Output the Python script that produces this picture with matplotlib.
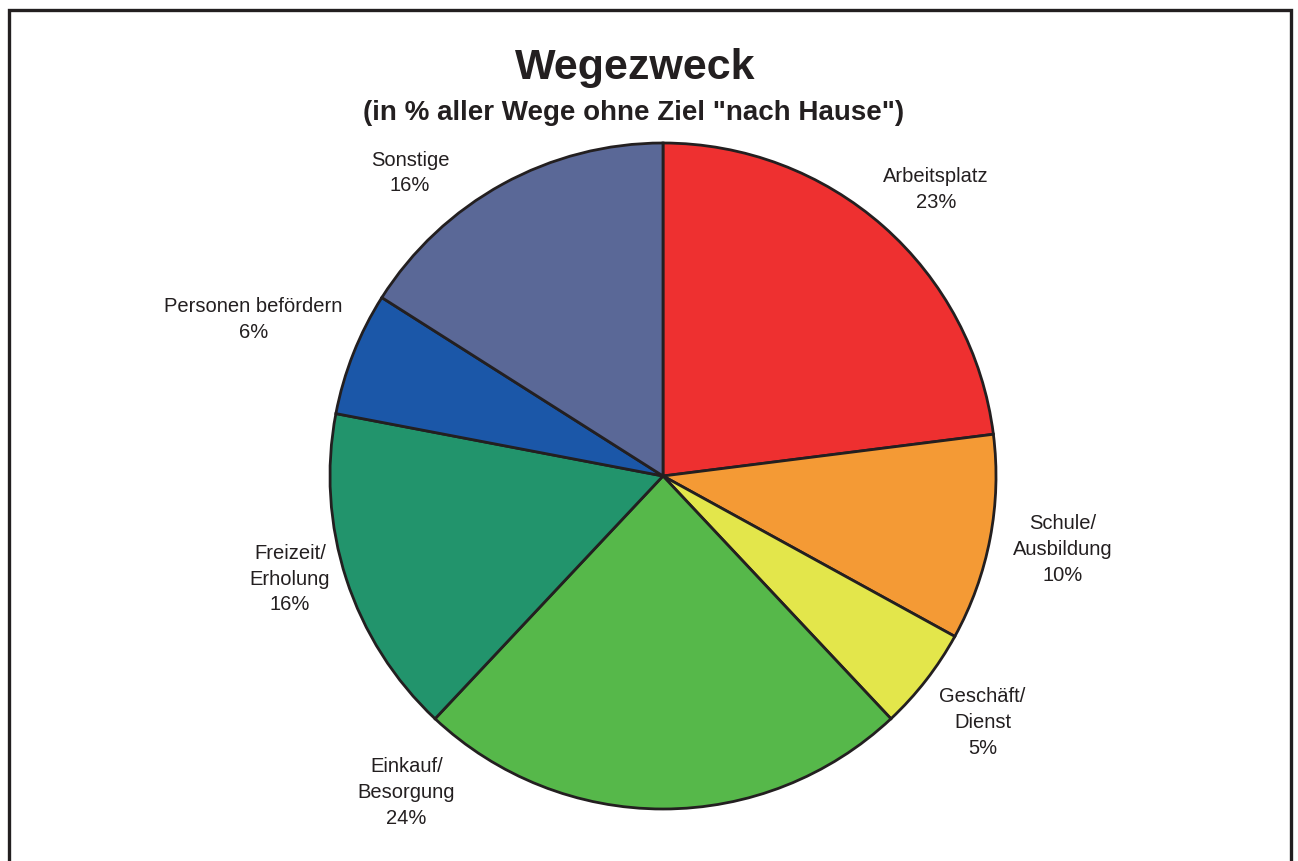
import matplotlib
matplotlib.use("Agg")
import matplotlib.pyplot as plt
from matplotlib.patches import Rectangle

categories = ["Arbeitsplatz", "Schule/\nAusbildung", "Geschäft/\nDienst",
              "Einkauf/\nBesorgung", "Freizeit/\nErholung",
              "Personen befördern", "Sonstige"]
shares = [23, 10, 5, 24, 16, 6, 16]
colors = ["#EE3030", "#F49A35", "#E3E64B", "#56B84A", "#22946C",
          "#1B57A8", "#5A6897"]

title = "Wegezweck"
subtitle = '(in % aller Wege ohne Ziel "nach Hause")'

# label anchor positions relative to the pie centre (in pie radii)
label_offsets = [(0.82, 0.86), (1.20, -0.22), (0.96, -0.74),
                 (-0.77, -0.95), (-1.12, -0.31), (-1.23, 0.47),
                 (-0.76, 0.91)]

plt.rcParams["font.family"] = ["Liberation Sans", "DejaVu Sans"]
ink = "#231F20"

W, H = 1298, 861
fig = plt.figure(figsize=(W / 100, H / 100), dpi=100)
ax = fig.add_axes([0, 0, 1, 1])

cx, cy, R = 663, H - 476, 333
ax.pie(shares, colors=colors, startangle=90, counterclock=False,
       center=(cx, cy), radius=R, frame=True,
       wedgeprops=dict(edgecolor=ink, linewidth=2.0))
ax.set_xlim(0, W)
ax.set_ylim(0, H)
ax.set_axis_off()

for name, val, (dx, dy) in zip(categories, shares, label_offsets):
    ax.text(cx + dx * R, cy + dy * R, f"{name}\n{val}%", ha="center",
            va="center", fontsize=14.5, color=ink, linespacing=1.45)

ax.text(635, H - 68, title, ha="center", va="center", fontsize=31,
        fontweight="bold", color=ink)
ax.text(634, H - 113, subtitle, ha="center", va="center", fontsize=20,
        fontweight="bold", color=ink)

ax.add_patch(Rectangle((9, -20), 1282, H - 10 + 20, fill=False,
                       edgecolor=ink, linewidth=2.4, clip_on=False))

fig.savefig("out.png", dpi=100)
